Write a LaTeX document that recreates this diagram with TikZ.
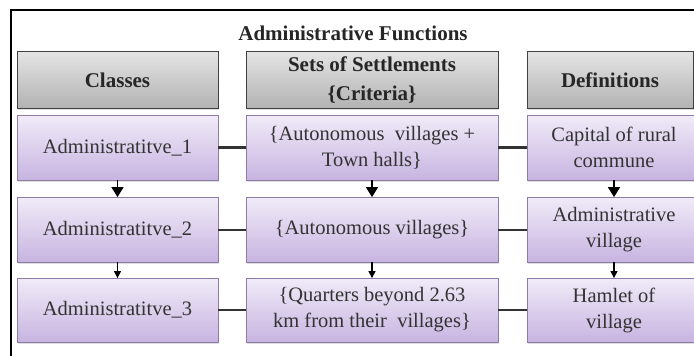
\documentclass[tikz,border=0pt]{standalone}
\usepackage{fontspec}
\setmainfont{Liberation Serif}
\usetikzlibrary{arrows.meta,shadows}

\definecolor{headtop}{HTML}{E4E4E4}
\definecolor{headbot}{HTML}{B2B2B2}
\definecolor{lilactop}{HTML}{F1EBF8}
\definecolor{lilacbot}{HTML}{C7B4E1}
\definecolor{lilacrim}{HTML}{8C7CA6}

\begin{document}
\begin{tikzpicture}[
  x=1pt, y=-1pt,
  >=Triangle,
  head/.style={draw=black!75,line width=1pt,top color=headtop,bottom color=headbot,
    font=\fontsize{21}{29}\selectfont\bfseries,text=black!85,align=center,inner sep=0pt,
    drop shadow={opacity=.25,shadow xshift=1pt,shadow yshift=-1.5pt}},
  cls/.style={draw=lilacrim,line width=.8pt,top color=lilactop,bottom color=lilacbot,
    font=\fontsize{20.5}{26}\selectfont,text=black!80,align=center,inner sep=0pt,
    drop shadow={opacity=.25,shadow xshift=1pt,shadow yshift=-1.5pt}},
  link/.style={draw=black!80,line width=2pt},
  down/.style={->,draw=black,line width=1.5pt,shorten >=-.5pt}
]
  \useasboundingbox (0,0) rectangle (694,356);
  \draw[line width=1.2pt] (11,356) |- (694,10);

  \node[font=\fontsize{21}{24}\selectfont\bfseries,text=black!85] (title) at (353,33) {Administrative Functions};

  % column headers
  \node[head,minimum width=201pt,minimum height=57pt] (hclass) at (117.5,80) {Classes};
  \node[head,minimum width=252pt,minimum height=57pt] (hsets) at (372,80) {Sets of Settlements\\\{Criteria\}};
  \node[head,minimum width=166pt,minimum height=57pt] (hdef) at (610,80) {Definitions};

  % first row
  \node[cls,minimum width=201pt,minimum height=65pt] (c1) at (117.5,147.5) {Administratitve\_1};
  \node[cls,minimum width=252pt,minimum height=65pt] (s1) at (372,147.5) {\{Autonomous\ \ villages +\\Town halls\}};
  \node[cls,minimum width=174pt,minimum height=65pt] (d1) at (614,147.5) {Capital of rural\\commune};

  % second row
  \node[cls,minimum width=201pt,minimum height=65pt] (c2) at (117.5,229.5) {Administratitve\_2};
  \node[cls,minimum width=252pt,minimum height=65pt] (s2) at (372,229.5) {\{Autonomous villages\}};
  \node[cls,minimum width=174pt,minimum height=65pt] (d2) at (614,229.5) {Administrative\\village};

  % third row
  \node[cls,minimum width=201pt,minimum height=64pt] (c3) at (117.5,310) {Administratitve\_3};
  \node[cls,minimum width=252pt,minimum height=64pt] (s3) at (372,310) {\{Quarters beyond 2.63\\km from their\ \ villages\}};
  \node[cls,minimum width=174pt,minimum height=64pt] (d3) at (614,310) {Hamlet of\\village};

  \draw[link,line width=2.5pt] (c1) -- (s1);
  \draw[link,line width=2.5pt] (s1) -- (d1);
  \draw[link] (c2) -- (s2);
  \draw[link] (s2) -- (d2);
  \draw[link] (c3) -- (s3);
  \draw[link] (s3) -- (d3);

  \foreach \col in {c,s,d}{
    \draw[down,-{Triangle[length=10pt,width=12pt]}] (\col1.south) -- (\col2.north);
    \draw[down,line width=1.2pt,-{Triangle[length=7pt,width=7pt]}] (\col2.south) -- (\col3.north);
  }
\end{tikzpicture}
\end{document}
